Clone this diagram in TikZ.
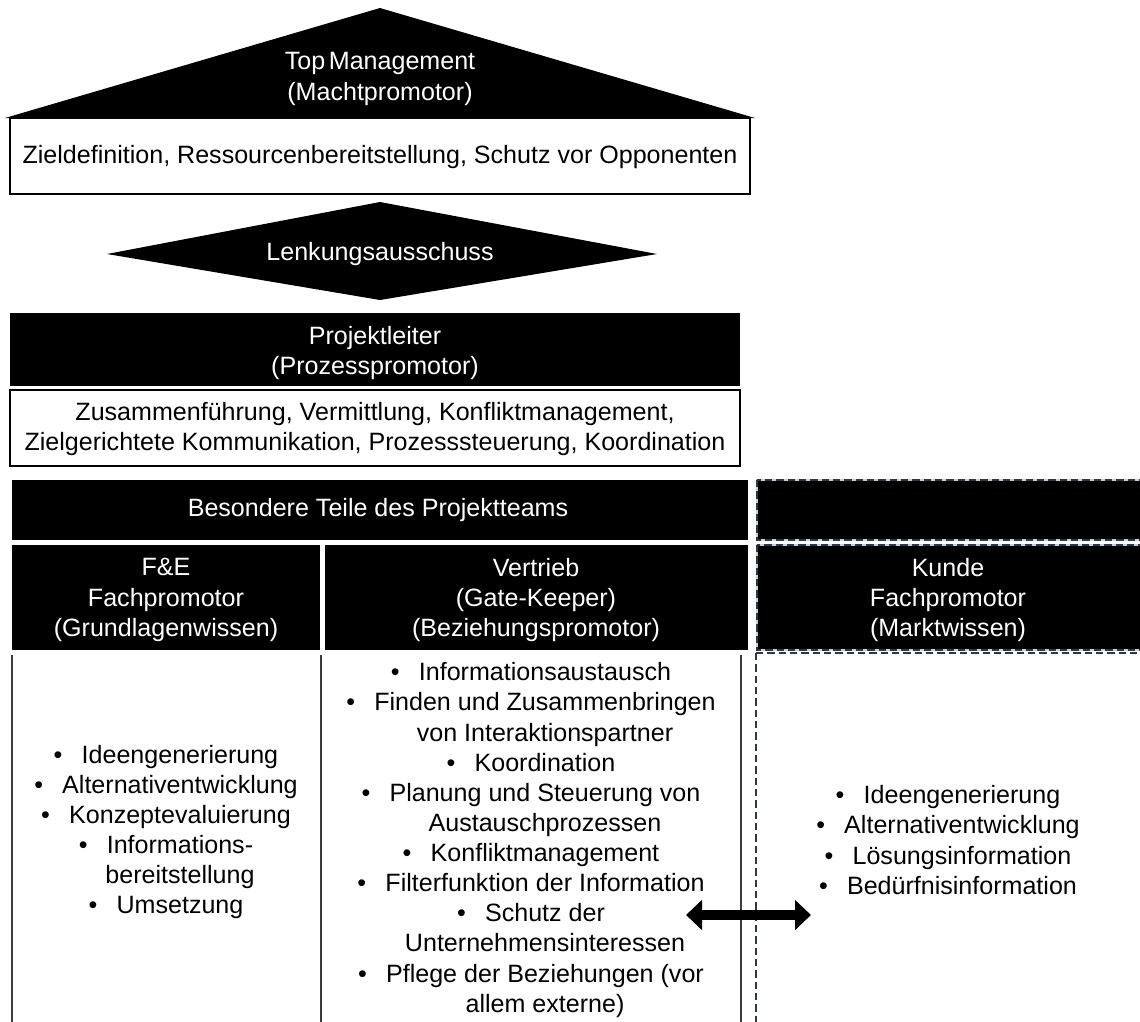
\documentclass[tikz,border=0pt]{standalone}
\usepackage{fontspec}
\setmainfont{Liberation Sans}
\usetikzlibrary{arrows.meta}
\definecolor{dashdark}{RGB}{45,55,70}
\definecolor{dashlight}{RGB}{200,210,222}
\definecolor{rulegray}{RGB}{60,60,60}
% bullet with its gap, and an equally wide blank for wrapped lines
\newcommand\bul{\makebox[21pt][l]{\textbullet}}
\newcommand\cnt{\phantom{\bul}}

\begin{document}
\begin{tikzpicture}[x=0.75pt,y=-0.75pt,
  every node/.style={font=\fontsize{18.8}{22.6}\selectfont, align=center, inner sep=0pt},
  whitetext/.style={text=white},
  blackfill/.style={fill=black},
  framebox/.style={draw=black, line width=1.1pt, fill=white},
  colrule/.style={draw=rulegray, line width=1.2pt},
  dashrule/.style={draw=dashdark, line width=1.2pt, dash pattern=on 5.5pt off 3pt},
  dashframe/.style={draw=dashlight, line width=1.6pt},
  bigarrow/.style={line width=8pt, {Triangle[length=12pt,width=22pt]}-{Triangle[length=12pt,width=22pt]}}
]
\useasboundingbox (0,0) rectangle (1140,1022);

% --- roof: top management ---
\fill[blackfill] (5,118) -- (380,8) -- (755,118) -- cycle;
\node[whitetext] (top) at (380,79) {Top\hspace{0.15em}Management\\(Machtpromotor)};
\draw[framebox] (10,118) rectangle (750,194);
\node (ziel) at (380,157) {Zieldefinition, Ressourcenbereitstellung, Schutz vor Opponenten};

% --- steering committee ---
\fill[blackfill] (107,254) -- (380,202) -- (657,254) -- (380,300) -- cycle;
\node[whitetext] (lenk) at (380,254) {Lenkungsausschuss};

% --- project lead ---
\fill[blackfill] (10,313) rectangle (740,386);
\node[whitetext] (pl) at (375,353) {Projektleiter\\(Prozesspromotor)};
\draw[framebox] (10,390) rectangle (740,466);
\node (plaufg) at (375,429) {Zusammenführung, Vermittlung, Konfliktmanagement,\\Zielgerichtete Kommunikation, Prozesssteuerung, Koordination};

% --- project team header ---
\fill[blackfill] (12,480) rectangle (748,540);
\node[whitetext] (team) at (378,510) {Besondere Teile des Projektteams};
\fill[blackfill] (12,545) rectangle (320,650);
\node[whitetext] (fe) at (166,600) {F\&E\\Fachpromotor\\(Grundlagenwissen)};
\fill[blackfill] (325,545) rectangle (748,650);
\node[whitetext] (vt) at (536,600) {Vertrieb\\(Gate-Keeper)\\(Beziehungspromotor)};

% --- customer (external) ---
\fill[blackfill] (757,480) rectangle (1140,540);
\draw[dashframe] (757,480) rectangle (1141,540);
\draw[dashrule] (757,480) rectangle (1141,540);
\fill[blackfill] (757,545) rectangle (1140,650);
\draw[dashframe] (757,545) rectangle (1141,650);
\draw[dashrule] (757,545) rectangle (1141,650);
\node[whitetext] (kd) at (948,600) {Kunde\\Fachpromotor\\(Marktwissen)};

% --- column rules ---
\draw[colrule] (12,655) -- (12,1022);
\draw[colrule] (321,655) -- (321,1022);
\draw[colrule] (741,655) -- (741,1022);
\draw[dashrule] (756,653) -- (756,1022);
\draw[dashrule] (756,653) -- (1140,653);

% --- task lists ---
\node (feliste) at (166,832) {\bul Ideengenerierung\\
\bul Alternativentwicklung\\
\bul Konzeptevaluierung\\
\bul Informations-\\
\cnt bereitstellung\\
\bul Umsetzung};

\node (vtliste) at (531,840) {\bul Informationsaustausch\\
\bul Finden und Zusammenbringen\\
\cnt von Interaktionspartner\\
\bul Koordination\\
\bul Planung und Steuerung von\\
\cnt Austauschprozessen\\
\bul Konfliktmanagement\\
\bul Filterfunktion der Information\\
\bul Schutz der\\
\cnt Unternehmensinteressen\\
\bul Pflege der Beziehungen (vor\\
\cnt allem externe)};

\node (kdliste) at (948,840) {\bul Ideengenerierung\\
\bul Alternativentwicklung\\
\bul Lösungsinformation\\
\bul Bedürfnisinformation};

% --- exchange between sales and customer ---
\coordinate (arrL) at (686,915);
\coordinate (arrR) at (811,915);
\draw[bigarrow] (arrL) -- (arrR);
\end{tikzpicture}
\end{document}
